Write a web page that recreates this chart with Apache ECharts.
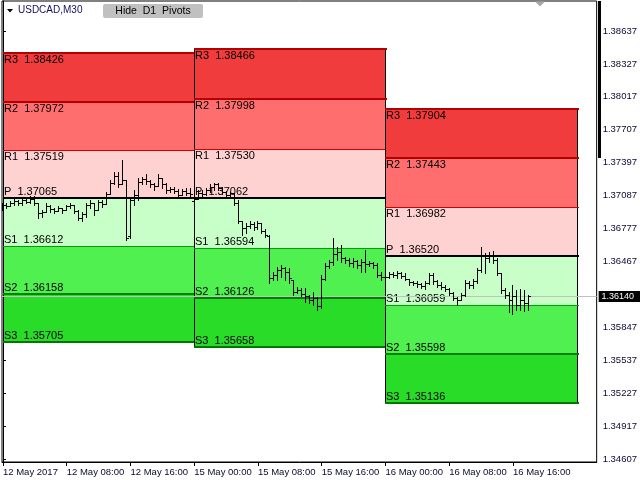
<!DOCTYPE html>
<html>
<head>
<meta charset="utf-8">
<script src="https://cdn.jsdelivr.net/npm/echarts@6/dist/echarts.min.js"></script>
<style>html,body{margin:0;padding:0;background:#fff;}#c{width:640px;height:480px;}</style>
</head>
<body>
<div id="c"></div>
<script>
// ---- time axis labels (M30 bars, 16 bars per label) ----
const timeLabels = ['12 May 2017','12 May 08:00','12 May 16:00','15 May 00:00','15 May 08:00','15 May 16:00','16 May 00:00','16 May 08:00','16 May 16:00'];
const timeLabelIndex = [0,16,32,48,64,80,96,112,128];
const priceTicks = [1.38637,1.38327,1.38017,1.37707,1.37397,1.37087,1.36777,1.36467,1.36157,1.35847,1.35537,1.35227,1.34917,1.34607];
const currentPrice = 1.36140;
const symbolTitle = 'USDCAD,M30';
const buttonText = 'Hide  D1  Pivots';

// ---- pivot levels per day: R3,R2,R1,P,S1,S2,S3 ----
const levelNames = ['R3','R2','R1','P','S1','S2','S3'];
const dayStart = [0,48,96];
const dayEnd = [48,96,144];
const pivotsDay1 = [1.38426,1.37972,1.37519,1.37065,1.36612,1.36158,1.35705];
const pivotsDay2 = [1.38466,1.37998,1.37530,1.37062,1.36594,1.36126,1.35658];
const pivotsDay3 = [1.37904,1.37443,1.36982,1.36520,1.36059,1.35598,1.35136];

// ---- OHLC, 12 May ----
const openD1 = [1.36979,1.36998,1.36989,1.37017,1.37036,1.37017,1.37045,1.37026,1.37055,1.37017,
 1.36923,1.36932,1.36989,1.36960,1.36942,1.36970,1.36951,1.36989,1.36998,1.36942,
 1.36876,1.36913,1.36998,1.37017,1.36951,1.37026,1.37008,1.37102,1.37205,1.37271,
 1.37196,1.37234,1.36706,1.37045,1.37092,1.37215,1.37243,1.37224,1.37187,1.37177,
 1.37252,1.37187,1.37139,1.37149,1.37130,1.37092,1.37130,1.37111];
const highD1 = [1.37017,1.37017,1.37036,1.37055,1.37045,1.37064,1.37064,1.37074,1.37083,1.37017,
 1.36951,1.37017,1.36998,1.36970,1.36989,1.36970,1.36998,1.37017,1.36998,1.36951,
 1.36932,1.37017,1.37045,1.37017,1.37045,1.37045,1.37121,1.37234,1.37309,1.37300,
 1.37422,1.37234,1.37064,1.37139,1.37252,1.37262,1.37290,1.37234,1.37205,1.37290,
 1.37252,1.37205,1.37168,1.37168,1.37149,1.37149,1.37158,1.37158];
const lowD1 = [1.36951,1.36970,1.36989,1.36998,1.36998,1.36998,1.37017,1.37017,1.36998,1.36876,
 1.36885,1.36932,1.36932,1.36923,1.36942,1.36923,1.36951,1.36970,1.36923,1.36857,
 1.36847,1.36885,1.36970,1.36904,1.36951,1.36979,1.37008,1.37102,1.37187,1.37168,
 1.37196,1.36668,1.36687,1.36998,1.37045,1.37196,1.37187,1.37168,1.37139,1.37177,
 1.37158,1.37111,1.37121,1.37111,1.37074,1.37092,1.37092,1.37074];
const closeD1 = [1.36998,1.36989,1.37017,1.37036,1.37017,1.37045,1.37026,1.37055,1.37017,1.36923,
 1.36932,1.36989,1.36960,1.36942,1.36970,1.36951,1.36989,1.36998,1.36942,1.36876,
 1.36913,1.36998,1.37017,1.36951,1.37026,1.37008,1.37102,1.37205,1.37271,1.37196,
 1.37234,1.36687,1.37045,1.37092,1.37215,1.37243,1.37224,1.37187,1.37177,1.37252,
 1.37187,1.37139,1.37149,1.37130,1.37092,1.37130,1.37111,1.37102];

// ---- OHLC, 15 May ----
const openD2 = [1.37036,1.37055,1.37111,1.37102,1.37139,1.37168,1.37187,1.37158,1.37121,1.37092,
 1.37111,1.37017,1.36847,1.36782,1.36800,1.36819,1.36791,1.36829,1.36753,1.36706,
 1.36311,1.36339,1.36386,1.36405,1.36367,1.36292,1.36179,1.36197,1.36160,1.36141,
 1.36103,1.36122,1.36047,1.36301,1.36424,1.36461,1.36537,1.36555,1.36499,1.36480,
 1.36452,1.36471,1.36433,1.36461,1.36442,1.36452,1.36433,1.36339];
const highD2 = [1.37074,1.37139,1.37139,1.37158,1.37187,1.37205,1.37205,1.37168,1.37130,1.37121,
 1.37111,1.37045,1.36847,1.36829,1.36847,1.36838,1.36847,1.36829,1.36772,1.36716,
 1.36367,1.36414,1.36433,1.36414,1.36405,1.36292,1.36226,1.36216,1.36216,1.36150,
 1.36179,1.36131,1.36339,1.36452,1.36480,1.36687,1.36602,1.36621,1.36508,1.36499,
 1.36499,1.36480,1.36489,1.36574,1.36471,1.36461,1.36452,1.36367];
const lowD2 = [1.36979,1.37055,1.37074,1.37092,1.37121,1.37139,1.37139,1.37102,1.37074,1.37064,
 1.36998,1.36829,1.36716,1.36734,1.36782,1.36763,1.36772,1.36734,1.36697,1.36264,
 1.36292,1.36292,1.36320,1.36292,1.36264,1.36150,1.36169,1.36141,1.36084,1.36075,
 1.36056,1.36009,1.36028,1.36292,1.36405,1.36433,1.36480,1.36461,1.36452,1.36424,
 1.36414,1.36405,1.36367,1.36367,1.36424,1.36405,1.36320,1.36292];
const closeD2 = [1.37055,1.37111,1.37102,1.37139,1.37168,1.37187,1.37158,1.37121,1.37092,1.37111,
 1.37017,1.36847,1.36782,1.36800,1.36819,1.36791,1.36829,1.36753,1.36716,1.36311,
 1.36339,1.36386,1.36405,1.36367,1.36311,1.36179,1.36197,1.36160,1.36141,1.36103,
 1.36122,1.36047,1.36301,1.36424,1.36461,1.36537,1.36555,1.36499,1.36480,1.36452,
 1.36471,1.36433,1.36461,1.36442,1.36452,1.36433,1.36339,1.36320];

// ---- OHLC, 16 May ----
const openD3 = [1.36320,1.36320,1.36348,1.36339,1.36358,1.36330,1.36301,1.36273,1.36264,1.36254,
 1.36235,1.36264,1.36339,1.36282,1.36245,1.36226,1.36207,1.36169,1.36122,1.36103,
 1.36150,1.36264,1.36245,1.36282,1.36386,1.36527,1.36499,1.36527,1.36480,1.36358,
 1.36197,1.36150,1.36103,1.36141,1.36056,1.36103,1.36075];
const highD3 = [1.36339,1.36367,1.36367,1.36376,1.36367,1.36358,1.36301,1.36282,1.36282,1.36264,
 1.36282,1.36358,1.36358,1.36292,1.36273,1.36245,1.36216,1.36179,1.36131,1.36169,
 1.36292,1.36282,1.36301,1.36405,1.36602,1.36546,1.36555,1.36565,1.36499,1.36358,
 1.36216,1.36179,1.36245,1.36197,1.36207,1.36197,1.36150];
const lowD3 = [1.36301,1.36311,1.36320,1.36311,1.36311,1.36292,1.36245,1.36245,1.36226,1.36216,
 1.36207,1.36254,1.36254,1.36226,1.36207,1.36188,1.36150,1.36103,1.36056,1.36103,
 1.36141,1.36216,1.36216,1.36264,1.36367,1.36358,1.36461,1.36452,1.36339,1.36169,
 1.36122,1.35990,1.35971,1.36009,1.36009,1.35999,1.36009];
const closeD3 = [1.36320,1.36348,1.36339,1.36358,1.36330,1.36301,1.36273,1.36264,1.36254,1.36235,
 1.36264,1.36339,1.36282,1.36245,1.36226,1.36207,1.36169,1.36122,1.36103,1.36150,
 1.36264,1.36245,1.36282,1.36386,1.36527,1.36499,1.36527,1.36480,1.36358,1.36197,
 1.36150,1.36103,1.36141,1.36056,1.36103,1.36075,1.36140];

// ---- build series data ----
const opens = openD1.concat(openD2, openD3);
const highs = highD1.concat(highD2, highD3);
const lows = lowD1.concat(lowD2, lowD3);
const closes = closeD1.concat(closeD2, closeD3);
const barData = opens.map((o, i) => [i, o, highs[i], lows[i], closes[i]]);
const pivotRows = [pivotsDay1, pivotsDay2, pivotsDay3];
const pivotData = pivotRows.map((p, d) => [dayStart[d], dayEnd[d]].concat(p));

const zoneFill = ['#f03c3c','#ff6e6e','#ffd2d2','#c8ffc8','#50f050','#28dc28'];
const lineColor = ['#b40000','#b40000','#d20000','#000000','#00a000','#008200','#007800'];
const lineWidth = [2,2,1,2,1,2,2];
const FONT_FAMILY = '"Liberation Sans", Arial, sans-serif';
const TXT_FONT = '11px ' + FONT_FAMILY;

function renderPivot(params, api) {
  const s = api.value(0), e = api.value(1);
  const lv = [];
  for (let k = 0; k < 7; k++) lv.push(api.value(2 + k));
  const x0 = Math.round(api.coord([s, lv[0]])[0]);
  const x1 = Math.round(api.coord([e, lv[0]])[0]);
  const ys = lv.map(v => Math.round(api.coord([s, v])[1]));
  const ch = [];
  for (let k = 0; k < 6; k++) {
    ch.push({type:'rect', shape:{x:x0, y:ys[k], width:x1 - x0, height:ys[k+1] - ys[k]},
      style:{fill:zoneFill[k]}});
  }
  ch.push({type:'line', shape:{x1:x0 + 0.5, y1:ys[0], x2:x0 + 0.5, y2:ys[6]}, style:{stroke:'#000', lineWidth:1}});
  ch.push({type:'line', shape:{x1:x1 + 0.5, y1:ys[0], x2:x1 + 0.5, y2:ys[6]}, style:{stroke:'#000', lineWidth:1}});
  for (let k = 0; k < 7; k++) {
    const y = lineWidth[k] % 2 ? ys[k] + 0.5 : ys[k];
    ch.push({type:'line', shape:{x1:x0, y1:y, x2:x1 + 2, y2:y}, style:{stroke:lineColor[k], lineWidth:lineWidth[k]}});
    const below = k < 3;
    ch.push({type:'text', style:{text:levelNames[k] + '  ' + lv[k].toFixed(5), x:x0 + 1,
      y: below ? ys[k] + 1 : ys[k] - 1, align:'left', verticalAlign: below ? 'top' : 'bottom',
      font:TXT_FONT, fill:'#000'}});
  }
  return {type:'group', children:ch};
}

function renderBar(params, api) {
  const i = api.value(0);
  const ph = api.coord([i, api.value(2)]);
  const pl = api.coord([i, api.value(3)]);
  const po = api.coord([i, api.value(1)]);
  const pc = api.coord([i, api.value(4)]);
  const xc = Math.floor(ph[0]);
  const yh = Math.floor(ph[1]);
  const yl = Math.floor(pl[1]) + 1;
  const yo = Math.floor(po[1]) + 0.5;
  const yc = Math.floor(pc[1]) + 0.5;
  const st = {stroke:'#000', lineWidth:1};
  return {type:'group', children:[
    {type:'line', shape:{x1:xc + 0.5, y1:yh, x2:xc + 0.5, y2:Math.max(yl, yh + 1)}, style:st},
    {type:'line', shape:{x1:xc - 2, y1:yo, x2:xc, y2:yo}, style:st},
    {type:'line', shape:{x1:xc + 1, y1:yc, x2:xc + 3, y2:yc}, style:st}
  ]};
}

function renderPriceLine(params, api) {
  const cs = params.coordSys;
  const v = api.value(1);
  const y = Math.round(api.coord([api.value(0), v])[1]) + 0.5;
  const right = cs.x + cs.width;
  return {type:'group', children:[
    {type:'line', shape:{x1:cs.x, y1:y, x2:right, y2:y}, style:{stroke:'#c0c0c0', lineWidth:1}},
    {type:'rect', shape:{x:right + 2, y:y - 5.5, width:640 - right - 2, height:11}, style:{fill:'#000'}},
    {type:'text', style:{text:v.toFixed(5), x:right + 21, y:y, align:'center', verticalAlign:'middle',
      font:'9px ' + FONT_FAMILY, fill:'#fff'}}
  ]};
}

const chart = echarts.init(document.getElementById('c'), null, {renderer:'canvas', width:640, height:480});
const axisTextColor = '#0a0a30';
const labelTicks = priceTicks.filter(v => Math.abs(v - currentPrice) > 0.0002);

chart.setOption({
  animation:false,
  backgroundColor:'#ffffff',
  grid:{left:2, top:1, width:597, height:461, show:true, borderColor:'#000', borderWidth:1, backgroundColor:'#fff'},
  xAxis:{
    type:'value', min:-0.25, max:149,
    splitLine:{show:false},
    axisLine:{show:true, lineStyle:{color:'#000', width:1}},
    axisTick:{show:true, length:4, lineStyle:{color:'#000'}, customValues:timeLabelIndex},
    axisLabel:{show:true, customValues:timeLabelIndex, align:'left', margin:5,
      fontSize:9.5, fontFamily:FONT_FAMILY, color:axisTextColor,
      formatter:(v) => timeLabels[timeLabelIndex.indexOf(Math.round(v))] || ''}
  },
  yAxis:{
    type:'value', position:'right', min:1.345788, max:1.389195, scale:true,
    splitLine:{show:false},
    axisLine:{show:true, lineStyle:{color:'#000', width:1}},
    axisTick:{show:true, length:3, lineStyle:{color:'#000'}, customValues:priceTicks},
    axisLabel:{show:true, customValues:labelTicks, margin:6, fontSize:9.5,
      fontFamily:FONT_FAMILY, color:axisTextColor,
      formatter:(v) => v.toFixed(5)}
  },
  series:[
    {
      type:'custom', name:'pivots', z:1, clip:true,
      renderItem:renderPivot,
      data:pivotData,
      encode:{x:[0,1], y:[2,3,4,5,6,7,8]}
    },
    {
      type:'custom', name:'price', z:2, clip:false,
      renderItem:renderPriceLine,
      data:[[0, currentPrice]],
      encode:{x:0, y:1}
    },
    {
      type:'custom', name:'USDCAD', z:3, clip:true,
      renderItem:renderBar,
      data:barData,
      encode:{x:0, y:[1,2,3,4]}
    }
  ],
  graphic:[
    {type:'polygon', shape:{points:[[7,9],[13,9],[10,12.5]]}, style:{fill:'#000'}, z:10},
    {type:'text', x:18, y:10.5, style:{text:symbolTitle, font:'10px ' + FONT_FAMILY, fill:'#101060', verticalAlign:'middle'}, z:10},
    {type:'rect', shape:{x:103, y:4, width:100, height:14, r:2}, style:{fill:'#c0c0c0'}, z:10},
    {type:'text', x:153, y:11.5, style:{text:buttonText, font:'10.5px ' + FONT_FAMILY, fill:'#000', align:'center', verticalAlign:'middle'}, z:11},
    {type:'polygon', shape:{points:[[535,1.5],[545,1.5],[540,6.5]]}, style:{fill:'#a8a8a8'}, z:10},
    {type:'rect', shape:{x:598, y:1, width:3, height:157}, style:{fill:'#000'}, z:10}
  ]
});
</script>
</body>
</html>
